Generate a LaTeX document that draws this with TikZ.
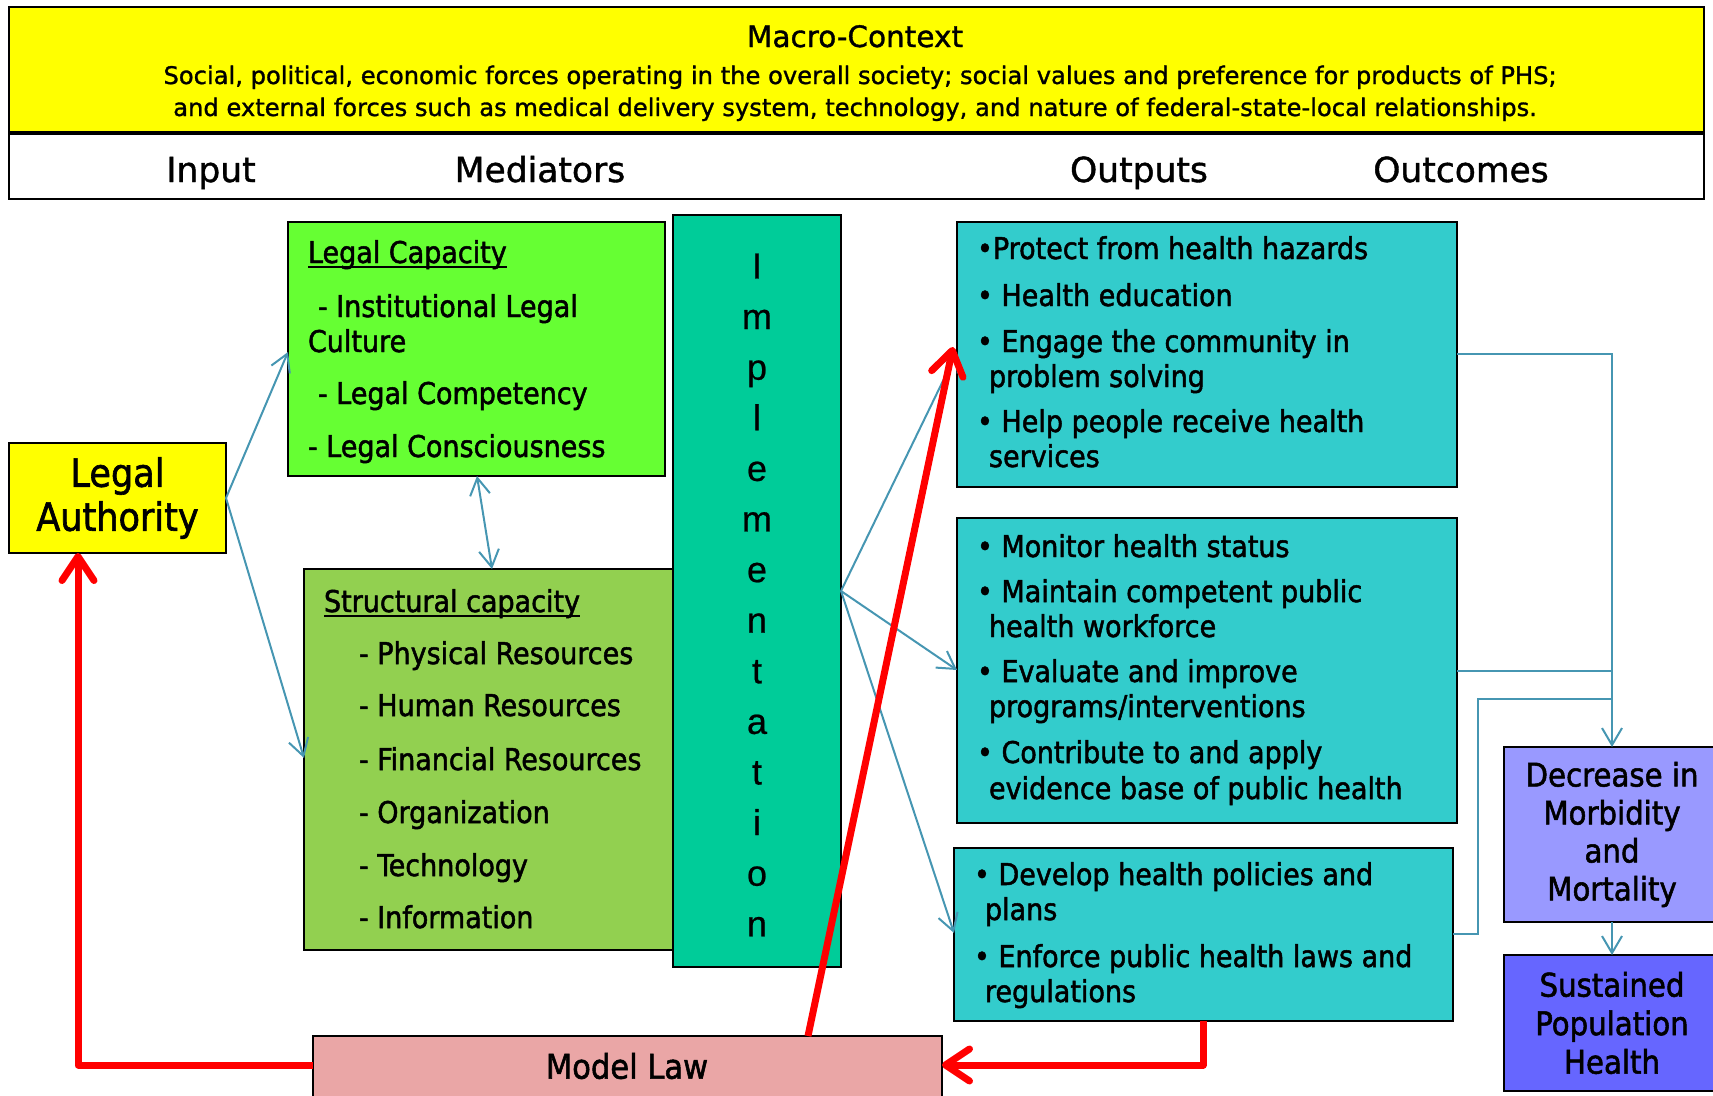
\documentclass[tikz,border=0pt]{standalone}
\usepackage{fontspec}
\setmainfont{DejaVu Sans}
\newfontfamily\hdrf[FakeBold=1.2]{DejaVu Sans}
\newfontfamily\cond[FakeBold=1.6]{DejaVu Sans Condensed}
\newfontfamily\arialf[FakeBold=0.6]{Liberation Sans}
\usetikzlibrary{arrows.meta,calc}
\definecolor{hyel}{RGB}{255,255,0}
\definecolor{lgreen}{RGB}{102,255,51}
\definecolor{sgreen}{RGB}{146,208,80}
\definecolor{implc}{RGB}{0,204,153}
\definecolor{outc}{RGB}{51,204,204}
\definecolor{decc}{RGB}{153,153,255}
\definecolor{susc}{RGB}{102,102,255}
\definecolor{mlc}{RGB}{234,166,166}
\definecolor{linkc}{RGB}{70,150,178}
\definecolor{redc}{RGB}{255,0,0}
\newcommand\myul[1]{\setbox0=\hbox{#1}\rlap{\rule[-5pt]{\wd0}{2.4pt}}\box0}
\begin{document}
\begin{tikzpicture}[x=1pt,y=-1pt,
  box/.style={draw=black, line width=2pt, inner sep=0pt, outer sep=0pt, rectangle, anchor=north west},
  ln/.style={inner sep=0pt, outer sep=0pt, anchor=base west, font=\cond\fontsize{30}{35}\selectfont},
  hdr/.style={inner sep=0pt, outer sep=0pt, anchor=base, font=\hdrf\fontsize{34.5}{40}\selectfont},
  conn/.style={draw=linkc, line width=2pt, -{Straight Barb[length=17pt,width=20pt]}},
  conntwo/.style={draw=linkc, line width=2pt, {Straight Barb[length=17pt,width=20pt]}-{Straight Barb[length=17pt,width=20pt]}},
  connp/.style={draw=linkc, line width=2pt},
  redarr/.style={draw=redc, line width=7pt, line join=round, -{Straight Barb[length=24pt,width=32pt,round]}}
]
\useasboundingbox (0,0) rectangle (1713,1095);

% header
\node[box, fill=hyel, minimum width=1695pt, minimum height=126pt] (macro) at (9,7) {};
\node[box, fill=white, line width=1.5pt, minimum width=1695pt, minimum height=66pt] (band) at (9,133) {};
\draw[line width=4.5pt] (macro.south west) -- (macro.south east);
\node[inner sep=0pt, anchor=base, font=\hdrf\fontsize{29.5}{34}\selectfont] (mtitle) at (855,47) {Macro-Context};
\node[inner sep=0pt, anchor=base, font=\hdrf\fontsize{24.2}{30}\selectfont] (msub1) at (860,84) {Social, political, economic forces operating in the overall society; social values and preference for products of PHS;};
\node[inner sep=0pt, anchor=base, font=\hdrf\fontsize{24.2}{30}\selectfont] (msub2) at (855,116) {and external forces such as medical delivery system, technology, and nature of federal-state-local relationships.};
\node[hdr] (hin) at (211,182) {Input};
\node[hdr] (hmed) at (540,182) {Mediators};
\node[hdr] (hout) at (1139,182) {Outputs};
\node[hdr] (houtc) at (1461,182) {Outcomes};

% boxes
\node[box, fill=hyel, minimum width=217pt, minimum height=110pt] (la) at (9,443) {};
\node[inner sep=0pt, align=center, font=\cond\fontsize{39}{44}\selectfont] (latext) at (la.center) {Legal\\Authority};
\node[box, fill=lgreen, minimum width=377pt, minimum height=254pt] (lcap) at (288,222) {};
\node[box, fill=sgreen, minimum width=380pt, minimum height=381pt] (scap) at (304,569) {};
\node[box, fill=implc, minimum width=168pt, minimum height=752pt] (impl) at (673,215) {};
\node[inner sep=0pt, align=center, font=\arialf\fontsize{36}{50.6}\selectfont] (impltext) at (757,595) {I\\m\\p\\l\\e\\m\\e\\n\\t\\a\\t\\i\\o\\n};
\node[box, fill=outc, minimum width=500pt, minimum height=265pt] (o1) at (957,222) {};
\node[box, fill=outc, minimum width=500pt, minimum height=305pt] (o2) at (957,518) {};
\node[box, fill=outc, minimum width=499pt, minimum height=173pt] (o3) at (954,848) {};
\node[box, fill=decc, minimum width=216pt, minimum height=175pt] (dec) at (1504,747) {};
\node[inner sep=0pt, align=center, font=\cond\fontsize{32.5}{38}\selectfont] (dectext) at (dec.center) {Decrease in\\Morbidity\\and\\Mortality};
\node[box, fill=susc, minimum width=216pt, minimum height=136pt] (sus) at (1504,955) {};
\node[inner sep=0pt, align=center, font=\cond\fontsize{32.5}{38.5}\selectfont] (sustext) at (sus.center) {Sustained\\Population\\Health};
\node[box, fill=mlc, minimum width=629pt, minimum height=70pt] (ml) at (313,1036) {};
\node[inner sep=0pt, font=\cond\fontsize{34}{40}\selectfont] (mltext) at (627,1066) {Model Law};

% legal capacity text
\node[ln] (lc1) at (308,263) {\myul{Legal Capacity}};
\node[ln] (lc2) at (318,317) {- Institutional Legal};
\node[ln] (lc3) at (308,352) {Culture};
\node[ln] (lc4) at (318,404) {- Legal Competency};
\node[ln] (lc5) at (308,457) {- Legal Consciousness};

% structural text
\node[ln] (sc0) at (324,612) {\myul{Structural capacity}};
\node[ln] (sc1) at (359,664) {- Physical Resources};
\node[ln] (sc2) at (359,716) {- Human Resources};
\node[ln] (sc3) at (359,770) {- Financial Resources};
\node[ln] (sc4) at (359,823) {- Organization};
\node[ln] (sc5) at (359,876) {- Technology};
\node[ln] (sc6) at (359,928) {- Information};

% outputs text
\node[ln] (oa1) at (977,259) {•Protect from health hazards};
\node[ln] (oa2) at (977,306) {• Health education};
\node[ln] (oa3) at (977,352) {• Engage the community in};
\node[ln] (oa4) at (989,387) {problem solving};
\node[ln] (oa5) at (977,432) {• Help people receive health};
\node[ln] (oa6) at (989,467) {services};

\node[ln] (ob1) at (977,557) {• Monitor health status};
\node[ln] (ob2) at (977,602) {• Maintain competent public};
\node[ln] (ob3) at (989,637) {health workforce};
\node[ln] (ob4) at (977,682) {• Evaluate and improve};
\node[ln] (ob5) at (989,717) {programs/interventions};
\node[ln] (ob6) at (977,763) {• Contribute to and apply};
\node[ln] (ob7) at (989,799) {evidence base of public health};

\node[ln] (oc1) at (974,885) {• Develop health policies and};
\node[ln] (oc2) at (985,920) {plans};
\node[ln] (oc3) at (974,967) {• Enforce public health laws and};
\node[ln] (oc4) at (985,1002) {regulations};

% thin connectors
\draw[conn] (la.east) -- ([yshift=-130pt]lcap.north west);
\draw[conn] (la.east) -- ([yshift=-189pt]scap.north west);
\draw[conntwo] ([xshift=189pt]lcap.south west) -- ([xshift=188pt]scap.north west);
\draw[conn] (impl.east) -- ([yshift=-130pt]o1.north west);
\draw[conn] (impl.east) -- ([yshift=-152pt]o2.north west);
\draw[conn] (impl.east) -- ([yshift=-85pt]o3.north west);

\coordinate (o1r) at ([yshift=-132pt]o1.north east);
\coordinate (o2r) at ([yshift=-153pt]o2.north east);
\coordinate (o3r) at ([yshift=-86pt]o3.north east);
\coordinate (o3k) at ([xshift=25pt]o3r);
\coordinate (j3) at (1612,699);
\draw[conn] (o1r) -| (dec.north);
\draw[connp] (o2r) -- (o2r -| dec.north);
\draw[connp] (o3r) -- (o3k) |- (j3);
\draw[conn] (dec.south) -- (sus.north);

% red arrows
\coordinate (mlt) at ([xshift=495pt]ml.north west);
\coordinate (o1tip) at ([xshift=-4pt,yshift=-125pt]o1.north west);
\draw[redarr] (mlt) -- (o1tip);
\coordinate (o3b) at ([xshift=249pt]o3.south west);
\coordinate (mlr) at ([yshift=-29pt]ml.north east);
\draw[redarr] (o3b) |- (mlr);
\coordinate (mll) at ([yshift=-29pt]ml.north west);
\coordinate (lab) at ([xshift=69pt]la.south west);
\draw[redarr] (mll) -| (lab);
\end{tikzpicture}
\end{document}
